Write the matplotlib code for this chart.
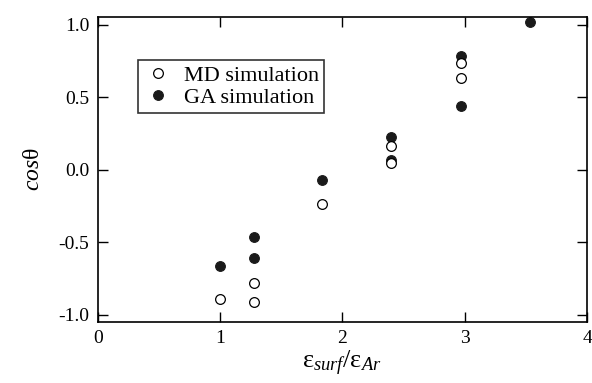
import matplotlib
matplotlib.use("Agg")
import matplotlib.pyplot as plt

# data
md_x = [1.0, 1.28, 1.28, 1.83, 2.40, 2.40, 2.97, 2.97]
md_y = [-0.89, -0.78, -0.91, -0.235, 0.165, 0.05, 0.736, 0.632]
ga_x = [1.0, 1.28, 1.28, 1.83, 2.40, 2.40, 2.97, 2.97, 3.535]
ga_y = [-0.66, -0.46, -0.61, -0.07, 0.23, 0.065, 0.786, 0.44, 1.02]

x_ticks = [0, 1, 2, 3, 4]
y_ticks = [-1.0, -0.5, 0.0, 0.5, 1.0]
y_tick_labels = ["-1.0", "-0.5", "0.0", "0.5", "1.0"]

plt.rcParams['font.family'] = ['Liberation Serif', 'DejaVu Serif']
plt.rcParams['mathtext.fontset'] = 'custom'
plt.rcParams['mathtext.rm'] = 'Liberation Serif'
plt.rcParams['mathtext.it'] = 'Liberation Serif:italic'

fig = plt.figure(figsize=(5.92, 3.83), dpi=100)
ax = fig.add_axes([0.165, 0.159, 0.8266, 0.7966])

ax.plot(ga_x, ga_y, 'o', color='#1a1a1a', markersize=7, markeredgewidth=0.8,
        label='GA simulation', zorder=2)
ax.plot(md_x, md_y, 'o', markerfacecolor='white', markeredgecolor='black',
        markersize=7, markeredgewidth=0.9, label='MD simulation', zorder=3)

ax.set_xlim(0, 4)
ax.set_ylim(-1.05, 1.055)
ax.set_xticks(x_ticks)
ax.set_yticks(y_ticks)
ax.set_yticklabels(y_tick_labels)
ax.tick_params(direction='in', top=True, right=True, length=7, width=1,
               labelsize=14, pad=6)
for s in ax.spines.values():
    s.set_linewidth(1.2)

ax.set_ylabel(r'$cos$θ', fontsize=17, labelpad=10)
ax.set_xlabel(r'ε$_{surf}$/ε$_{Ar}$', fontsize=19, labelpad=1)

handles, labels = ax.get_legend_handles_labels()
leg = ax.legend(handles[::-1], labels[::-1], loc='upper left',
                bbox_to_anchor=(0.06, 0.895), fontsize=16, frameon=True,
                fancybox=False, edgecolor='black', handletextpad=0.5,
                borderpad=0.25, labelspacing=0.05, handlelength=1.3)
leg.get_frame().set_linewidth(1.2)

fig.savefig('out.png', dpi=100)
